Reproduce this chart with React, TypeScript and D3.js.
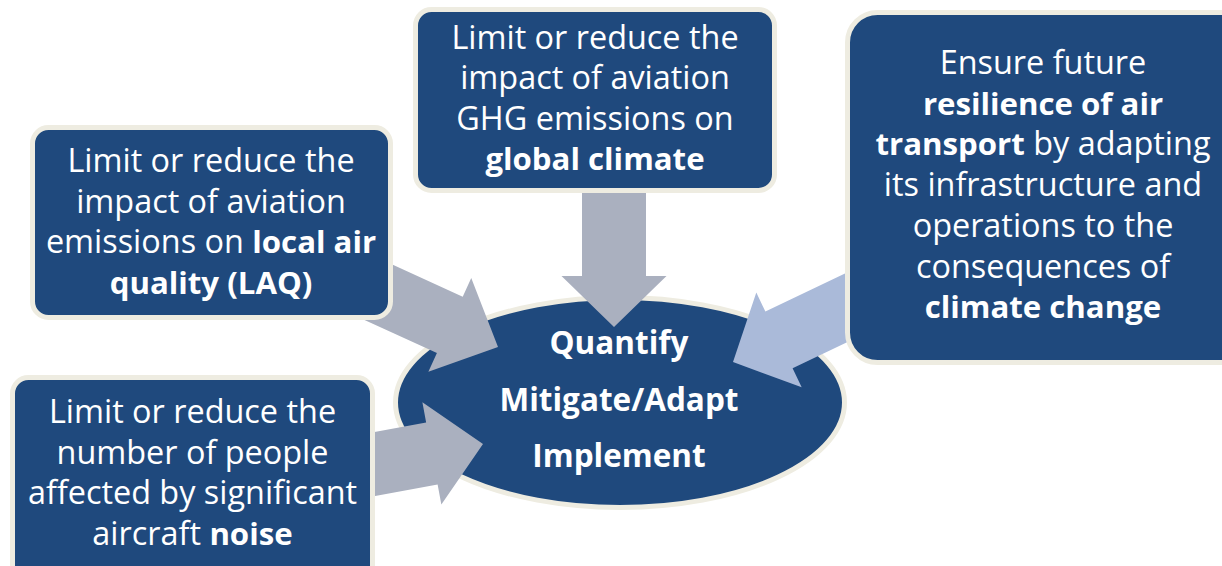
import React from 'react';
import * as d3 from 'd3';

// text of each box, as lines of [text, bold] segments
type Seg = [string, boolean];

const laqLines: Seg[][] = [
  [['Limit or reduce the', false]],
  [['impact of aviation', false]],
  [['emissions on ', false], ['local air', true]],
  [['quality (LAQ)', true]],
];

const ghgLines: Seg[][] = [
  [['Limit or reduce the', false]],
  [['impact of aviation', false]],
  [['GHG emissions on', false]],
  [['global climate', true]],
];

const resilienceLines: Seg[][] = [
  [['Ensure future', false]],
  [['resilience of air', true]],
  [['transport', true], [' by adapting', false]],
  [['its infrastructure and', false]],
  [['operations to the', false]],
  [['consequences of', false]],
  [['climate change', true]],
];

const noiseLines: Seg[][] = [
  [['Limit or reduce the', false]],
  [['number of people', false]],
  [['affected by significant', false]],
  [['aircraft ', false], ['noise', true]],
];

const centerLines = ['Quantify', 'Mitigate/Adapt', 'Implement'];

const width = 1222;
const height = 566;
const fill = '#1F497D';
const border = '#EEECE1';
const arrowGray = '#AAB0BF';
const arrowBlue = '#AABAD9';
const font = "'Open Sans', sans-serif";

// layout of boxes: rect + first baseline + line step + text center
const boxes = [
  { lines: laqLines, x: 32.5, y: 127.5, w: 358, h: 190, r: 16, cx: 211, y0: 172, step: 40.5 },
  { lines: ghgLines, x: 415.5, y: 9.5, w: 359, h: 181, r: 16, cx: 595, y0: 49, step: 40.4 },
  { lines: resilienceLines, x: 847.5, y: 12.5, w: 410, h: 350, r: 30, cx: 1043, y0: 74, step: 40.7 },
  { lines: noiseLines, x: 12.5, y: 377.5, w: 360, h: 230, r: 16, cx: 192.5, y0: 423, step: 40.7 },
];

// arrows: tip, angle (deg), length, shaft width, head width, head length
const arrows = [
  { tip: [498, 347], angle: 24.6, len: 170, sw: 62, hw: 103, hl: 53, color: arrowGray },
  { tip: [614, 327], angle: 90, len: 145, sw: 64, hw: 105, hl: 51, color: arrowGray },
  { tip: [483, 444], angle: -10.5, len: 150, sw: 63, hw: 104, hl: 52, color: arrowGray },
  { tip: [733, 362], angle: 154.4, len: 170, sw: 63, hw: 105, hl: 51, color: arrowBlue },
];

const arrowPath = (a: typeof arrows[number]) => {
  const t = (a.angle * Math.PI) / 180;
  const ux = Math.cos(t), uy = Math.sin(t);
  const nx = -uy, ny = ux;
  const [tx, ty] = a.tip;
  const bx = tx - ux * a.hl, by = ty - uy * a.hl;
  const sx = tx - ux * a.len, sy = ty - uy * a.len;
  const pts: [number, number][] = [
    [sx + nx * a.sw / 2, sy + ny * a.sw / 2],
    [bx + nx * a.sw / 2, by + ny * a.sw / 2],
    [bx + nx * a.hw / 2, by + ny * a.hw / 2],
    [tx, ty],
    [bx - nx * a.hw / 2, by - ny * a.hw / 2],
    [bx - nx * a.sw / 2, by - ny * a.sw / 2],
    [sx - nx * a.sw / 2, sy - ny * a.sw / 2],
  ];
  return d3.line().curve(d3.curveLinearClosed)(pts) as string;
};

const App = () => {
  return (
    <svg
      width={width}
      height={height}
      style={{ position: 'absolute', left: 0, top: 0, background: '#fff' }}
    >
      <ellipse cx={620} cy={402.5} rx={224.5} ry={105} fill={fill} stroke={border} strokeWidth={5} />
      {centerLines.map((l, i) => (
        <text
          key={`c-${i}`}
          x={619}
          y={354 + i * 56.5}
          textAnchor="middle"
          fill="#fff"
          fontFamily={font}
          fontWeight="bold"
          fontSize={31.5}
        >
          {l}
        </text>
      ))}

      {arrows.map((a, i) => (
        <path key={`arrow-${i}`} d={arrowPath(a)} fill={a.color} />
      ))}

      {boxes.map((b, i) => (
        <g key={`box-${i}`}>
          <rect x={b.x} y={b.y} width={b.w} height={b.h} rx={b.r} fill={fill} stroke={border} strokeWidth={5} />
          {b.lines.map((line, j) => (
            <text
              key={`t-${i}-${j}`}
              x={b.cx}
              y={b.y0 + j * b.step}
              textAnchor="middle"
              fill="#fff"
              fontFamily={font}
            >
              {line.map((s, k) => (
                <tspan key={k} fontWeight={s[1] ? 'bold' : 'normal'} fontSize={s[1] ? 31.2 : 32.4}>
                  {s[0]}
                </tspan>
              ))}
            </text>
          ))}
        </g>
      ))}
    </svg>
  );
};

export default App;
